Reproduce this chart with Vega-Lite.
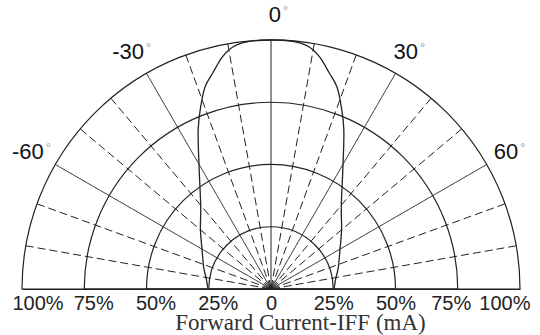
{
  "$schema": "https://vega.github.io/schema/vega-lite/v6.json",
  "width": 498,
  "height": 249,
  "autosize": {"type": "none"},
  "padding": {"left": 22, "top": 40, "right": 20, "bottom": 46},
  "background": "white",
  "config": {"view": {"stroke": null}},
  "datasets": {
    "rings": [{"r": 25}, {"r": 50}, {"r": 75}, {"r": 100}],
    "spokes": [
      {"angle": -80, "style": "dashed"}, {"angle": -70, "style": "dashed"},
      {"angle": -60, "style": "solid"}, {"angle": -50, "style": "dashed"},
      {"angle": -40, "style": "dashed"}, {"angle": -30, "style": "solid"},
      {"angle": -20, "style": "dashed"}, {"angle": -10, "style": "dashed"},
      {"angle": 0, "style": "solid"}, {"angle": 10, "style": "dashed"},
      {"angle": 20, "style": "dashed"}, {"angle": 30, "style": "solid"},
      {"angle": 40, "style": "dashed"}, {"angle": 50, "style": "dashed"},
      {"angle": 60, "style": "solid"}, {"angle": 70, "style": "dashed"},
      {"angle": 80, "style": "dashed"}
    ],
    "curve": [
      {"angle": -90, "intensity": 25.3}, {"angle": -80, "intensity": 26.5},
      {"angle": -73, "intensity": 28.2}, {"angle": -60, "intensity": 32},
      {"angle": -50, "intensity": 37}, {"angle": -41, "intensity": 43},
      {"angle": -31, "intensity": 56}, {"angle": -24.5, "intensity": 70.5},
      {"angle": -21.5, "intensity": 77.5}, {"angle": -18, "intensity": 85.5},
      {"angle": -15, "intensity": 90}, {"angle": -12, "intensity": 95},
      {"angle": -10, "intensity": 97.5}, {"angle": -8, "intensity": 99},
      {"angle": -5, "intensity": 99.8}, {"angle": 0, "intensity": 100},
      {"angle": 5, "intensity": 99.8}, {"angle": 8, "intensity": 99},
      {"angle": 10, "intensity": 97.5}, {"angle": 12, "intensity": 95},
      {"angle": 15, "intensity": 90}, {"angle": 18, "intensity": 85.5},
      {"angle": 21.5, "intensity": 77.5}, {"angle": 24.5, "intensity": 70.5},
      {"angle": 31, "intensity": 56}, {"angle": 41, "intensity": 43},
      {"angle": 50, "intensity": 37}, {"angle": 60, "intensity": 32},
      {"angle": 73, "intensity": 28.2}, {"angle": 80, "intensity": 26.5},
      {"angle": 90, "intensity": 25.3}
    ],
    "labels": [
      {"angle": -60, "label": "-60"}, {"angle": -30, "label": "-30"},
      {"angle": 0, "label": "0"}, {"angle": 30, "label": "30"},
      {"angle": 60, "label": "60"}
    ]
  },
  "layer": [
    {
      "data": {"name": "curve"},
      "transform": [
        {"calculate": "datum.intensity*sin(datum.angle*PI/180)", "as": "cx"},
        {"calculate": "datum.intensity*cos(datum.angle*PI/180)", "as": "cy"}
      ],
      "mark": {"type": "line", "stroke": "#222", "strokeWidth": 1.3, "interpolate": "catmull-rom"},
      "encoding": {
        "x": {
          "field": "cx", "type": "quantitative",
          "scale": {"domain": [-100, 100], "nice": false, "zero": false},
          "axis": {
            "values": [-100, -75, -50, -25, 0, 25, 50, 75, 100],
            "labelExpr": "datum.value == 0 ? '0' : abs(datum.value) + '%'",
            "ticks": false, "grid": false, "domain": true,
            "domainColor": "#222", "domainWidth": 1.2,
            "labelFont": "Liberation Sans", "labelFontSize": 20, "labelColor": "#222",
            "labelPadding": 4, "labelFlush": true, "labelFlushOffset": 10, "labelOverlap": false,
            "labelOffset": {
              "condition": [
                {"test": "datum.value < 0 && datum.value > -100", "value": 9},
                {"test": "datum.value == 75", "value": -7}
              ],
              "value": 0
            },
            "title": "Forward Current-IFF (mA)",
            "titleFont": "Liberation Serif", "titleFontSize": 23, "titleFontWeight": "normal",
            "titleColor": "#333", "titleX": 278, "titleY": 40,
            "titleBaseline": "alphabetic", "titleAlign": "center"
          }
        },
        "y": {"field": "cy", "type": "quantitative", "scale": {"domain": [0, 100], "nice": false, "zero": false}, "axis": null},
        "order": {"field": "angle", "type": "quantitative"}
      }
    },
    {
      "data": {"name": "spokes"},
      "transform": [
        {"calculate": "100*sin(datum.angle*PI/180)", "as": "ex"},
        {"calculate": "100*cos(datum.angle*PI/180)", "as": "ey"}
      ],
      "mark": {"type": "rule", "stroke": "#222", "strokeWidth": 1},
      "encoding": {
        "x": {"field": "ex", "type": "quantitative", "scale": {"domain": [-100, 100], "nice": false, "zero": false}},
        "y": {"field": "ey", "type": "quantitative", "scale": {"domain": [0, 100], "nice": false, "zero": false}, "axis": null},
        "x2": {"datum": 0},
        "y2": {"datum": 0},
        "strokeDash": {"field": "style", "type": "nominal", "scale": {"domain": ["solid", "dashed"], "range": [[1, 0], [8, 4]]}, "legend": null}
      }
    },
    {
      "data": {"name": "rings"},
      "mark": {"type": "arc", "filled": false, "stroke": "#222", "strokeWidth": 1.2, "theta": -1.5708, "theta2": 1.5708},
      "encoding": {
        "x": {"datum": 0, "type": "quantitative", "scale": {"domain": [-100, 100], "nice": false, "zero": false}},
        "y": {"datum": 0, "type": "quantitative", "scale": {"domain": [0, 100], "nice": false, "zero": false}, "axis": null},
        "radius": {"field": "r", "type": "quantitative", "stack": null, "scale": {"type": "linear", "domain": [0, 100], "range": [0, 249], "zero": true}}
      }
    },
    {
      "data": {"name": "labels"},
      "transform": [
        {"calculate": "110*sin(datum.angle*PI/180)", "as": "lx"},
        {"calculate": "110*cos(datum.angle*PI/180)", "as": "ly"}
      ],
      "mark": {"type": "text", "font": "Liberation Sans", "fontSize": 22, "color": "#111", "align": "right", "baseline": "middle", "dx": 10},
      "encoding": {
        "x": {"field": "lx", "type": "quantitative", "scale": {"domain": [-100, 100], "nice": false, "zero": false}},
        "y": {"field": "ly", "type": "quantitative", "scale": {"domain": [0, 100], "nice": false, "zero": false}, "axis": null},
        "text": {"field": "label"}
      }
    },
    {
      "data": {"name": "labels"},
      "transform": [
        {"calculate": "110*sin(datum.angle*PI/180)", "as": "lx"},
        {"calculate": "110*cos(datum.angle*PI/180)", "as": "ly"}
      ],
      "mark": {"type": "text", "font": "Liberation Sans", "fontSize": 13, "color": "#999", "align": "left", "baseline": "middle", "dx": 12, "dy": -4},
      "encoding": {
        "x": {"field": "lx", "type": "quantitative", "scale": {"domain": [-100, 100], "nice": false, "zero": false}},
        "y": {"field": "ly", "type": "quantitative", "scale": {"domain": [0, 100], "nice": false, "zero": false}, "axis": null},
        "text": {"value": "°"}
      }
    }
  ]
}
